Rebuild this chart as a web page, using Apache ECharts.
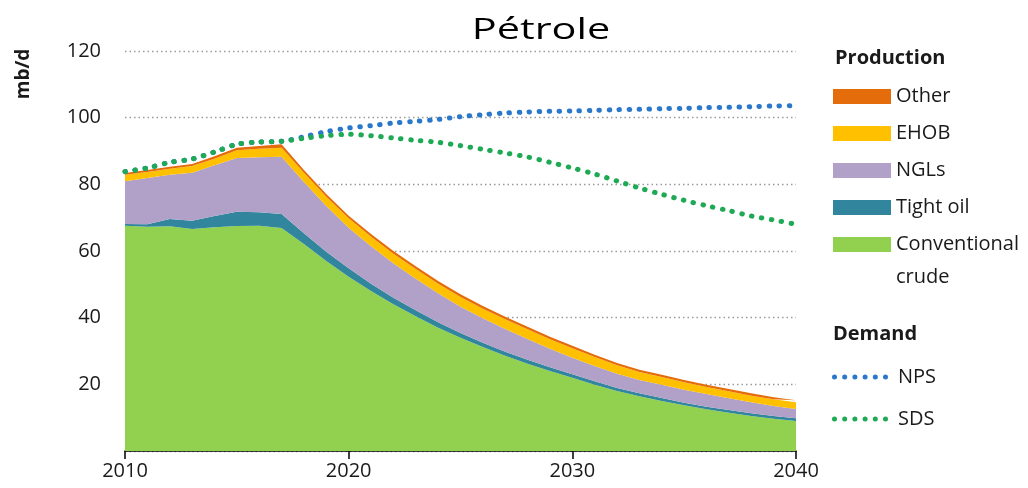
<!DOCTYPE html>
<html>
<head>
<meta charset="utf-8">
<script src="https://cdn.jsdelivr.net/npm/echarts@6/dist/echarts.min.js"></script>
<style>
  html, body { margin: 0; padding: 0; background: #fff; }
  #my_chart { width: 1028px; height: 488px; }
</style>
</head>
<body>
<div id="my_chart"></div>
<script>
  // years on the x axis
  var years = ['2010','2011','2012','2013','2014','2015','2016','2017','2018','2019','2020',
    '2021','2022','2023','2024','2025','2026','2027','2028','2029','2030',
    '2031','2032','2033','2034','2035','2036','2037','2038','2039','2040'];
  var yTicks = [20, 40, 60, 80, 100, 120];

  // production by type, mb/d (stacked, bottom to top)
  var conventional = [67.6, 67.3, 67.4, 66.6, 67.1, 67.5, 67.6, 66.9, 62.1, 57.0, 52.3,
    48.0, 44.0, 40.4, 37.0, 34.0, 31.2, 28.6, 26.2, 24.0, 22.0,
    19.9, 18.0, 16.4, 15.0, 13.7, 12.5, 11.5, 10.5, 9.7, 9.0];
  var tightOil = [0.5, 0.7, 2.2, 2.5, 3.4, 4.3, 4.0, 4.2, 3.2, 2.8, 2.5,
    2.2, 2.0, 1.8, 1.6, 1.4, 1.3, 1.2, 1.2, 1.1, 1.0,
    1.0, 0.9, 0.9, 0.9, 0.8, 0.8, 0.8, 0.8, 0.8, 0.8];
  var ngls = [12.8, 13.9, 13.3, 14.4, 15.2, 16.1, 16.5, 17.2, 15.4, 13.7, 12.2,
    11.2, 10.3, 9.5, 8.7, 7.9, 7.3, 6.8, 6.2, 5.6, 5.0,
    4.6, 4.3, 4.0, 4.0, 3.9, 3.8, 3.5, 3.3, 3.0, 2.8];
  var ehob = [2.0, 1.8, 1.8, 2.0, 2.0, 2.3, 2.6, 2.7, 2.8, 2.8, 2.8,
    2.9, 2.9, 2.9, 2.9, 2.9, 2.9, 2.9, 2.9, 2.8, 2.8,
    2.7, 2.5, 2.4, 2.3, 2.2, 2.1, 2.1, 2.0, 2.0, 2.0];
  var other = [0.5, 0.6, 0.6, 0.6, 0.7, 0.8, 0.8, 1.0, 0.8, 0.8, 0.8,
    0.8, 0.8, 0.8, 0.8, 0.8, 0.8, 0.8, 0.8, 0.8, 0.8,
    0.7, 0.7, 0.7, 0.7, 0.7, 0.7, 0.7, 0.7, 0.6, 0.6];

  // demand scenarios, mb/d
  var nps = [83.8, 84.9, 86.6, 87.6, 89.7, 92.0, 92.7, 92.9, 94.3, 95.8, 96.9,
    97.6, 98.4, 98.9, 99.5, 100.3, 100.9, 101.4, 101.7, 101.9, 102.0,
    102.2, 102.4, 102.5, 102.7, 102.8, 103.0, 103.1, 103.3, 103.5, 103.6];
  var sds = [83.8, 84.9, 86.6, 87.6, 89.7, 92.0, 92.7, 92.9, 93.8, 94.6, 95.0,
    94.6, 93.9, 93.2, 92.6, 91.6, 90.5, 89.4, 88.2, 86.6, 84.9,
    83.1, 81.0, 78.9, 77.0, 75.2, 73.6, 72.1, 70.5, 69.3, 68.0];

  var FONT = '"Open Sans", "Noto Sans", sans-serif';
  var TXT = '#1a1a1a';
  var dots = 'path://M0,2.5a2.5,2.5 0 1,0 5,0a2.5,2.5 0 1,0 -5,0' +
    'M10.2,2.5a2.5,2.5 0 1,0 5,0a2.5,2.5 0 1,0 -5,0' +
    'M20.4,2.5a2.5,2.5 0 1,0 5,0a2.5,2.5 0 1,0 -5,0' +
    'M30.6,2.5a2.5,2.5 0 1,0 5,0a2.5,2.5 0 1,0 -5,0' +
    'M40.8,2.5a2.5,2.5 0 1,0 5,0a2.5,2.5 0 1,0 -5,0' +
    'M51,2.5a2.5,2.5 0 1,0 5,0a2.5,2.5 0 1,0 -5,0';

  function area(name, data, color) {
    return {
      name: name, type: 'line', stack: 'prod', data: data,
      symbol: 'none', silent: true,
      lineStyle: { width: 0 },
      itemStyle: { color: color },
      areaStyle: { color: color, opacity: 1 }
    };
  }
  function demand(name, data, color) {
    return {
      name: name, type: 'line', data: data, symbol: 'none', smooth: 0.3, z: 5,
      itemStyle: { color: color },
      lineStyle: { color: color, width: 5, type: [0.5, 9.5], cap: 'round' }
    };
  }

  var my_chart = echarts.init(document.getElementById('my_chart'));
  my_chart.setOption({
    animation: false,
    textStyle: { fontFamily: FONT },
    grid: { left: 125, right: 232, top: 51, bottom: 37 },
    graphic: [
      { type: 'text', x: 541, y: 30, scaleX: 1.38,
        style: { text: 'Pétrole', fontSize: 30, fontFamily: FONT, fill: '#000', align: 'center', verticalAlign: 'middle' } },
      { type: 'text', x: 24, y: 74, rotation: Math.PI / 2,
        style: { text: 'mb/d', fontSize: 19, fontWeight: 'bold', fontFamily: FONT, fill: TXT, align: 'center', verticalAlign: 'middle' } },
      { type: 'text', x: 835, y: 58,
        style: { text: 'Production', fontSize: 20, fontWeight: 'bold', fontFamily: FONT, fill: TXT, align: 'left', verticalAlign: 'middle' } },
      { type: 'text', x: 833, y: 334,
        style: { text: 'Demand', fontSize: 20, fontWeight: 'bold', fontFamily: FONT, fill: TXT, align: 'left', verticalAlign: 'middle' } }
    ],
    legend: [
      { data: ['Other', 'EHOB', 'NGLs', 'Tight oil'], orient: 'vertical', left: 833, top: 86.5,
        padding: 0, itemWidth: 58, itemHeight: 15, itemGap: 17, icon: 'rect', selectedMode: false,
        textStyle: { fontSize: 20, fontFamily: FONT, color: TXT, lineHeight: 15 } },
      { data: ['Conventional crude'], orient: 'vertical', left: 833, top: 195,
        padding: 0, itemWidth: 58, itemHeight: 15, icon: 'rect', selectedMode: false,
        formatter: function () { return ' \nConventional\ncrude'; },
        textStyle: { fontSize: 20, fontFamily: FONT, color: TXT, lineHeight: 33 } },
      { data: [{ name: 'NPS', icon: dots }, { name: 'SDS', icon: dots }], orient: 'vertical', left: 832, top: 367,
        padding: 0, itemWidth: 56, itemHeight: 5, itemGap: 22, selectedMode: false, symbolKeepAspect: false,
        textStyle: { fontSize: 20, fontFamily: FONT, color: TXT, lineHeight: 5, padding: [0, 0, 0, 5] } }
    ],
    xAxis: {
      type: 'category', data: years, boundaryGap: false,
      axisLine: { lineStyle: { color: '#000', width: 1.5 } },
      axisTick: { interval: 9, length: 8, lineStyle: { color: '#000', width: 1.5 } },
      axisLabel: { interval: 9, fontSize: 20, color: TXT, margin: 10, fontFamily: FONT },
      splitLine: { show: false }
    },
    yAxis: {
      type: 'value', min: 0, max: yTicks[yTicks.length - 1], interval: yTicks[0],
      axisLine: { show: false }, axisTick: { show: false },
      axisLabel: { fontSize: 20, color: TXT, margin: 24, fontFamily: FONT,
        formatter: function (v) { return yTicks.indexOf(v) >= 0 ? String(v) : ''; } },
      splitLine: { lineStyle: { color: '#9a9a9a', width: 1.3, type: [1.5, 3] } }
    },
    series: [
      area('Conventional crude', conventional, '#92d050'),
      area('Tight oil', tightOil, '#31859c'),
      area('NGLs', ngls, '#b1a0c7'),
      area('EHOB', ehob, '#ffc000'),
      area('Other', other, '#e46c0a'),
      demand('NPS', nps, '#2a78cc'),
      demand('SDS', sds, '#1eaa55')
    ]
  });
</script>
</body>
</html>
